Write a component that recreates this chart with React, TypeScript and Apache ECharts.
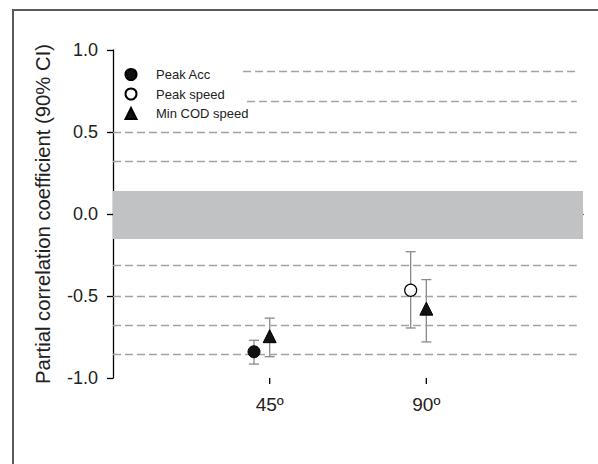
import React, { useEffect, useRef } from "react";
import * as echarts from "echarts";

// x positions: 1 = 45º, 2 = 90º
const xTicks = [1, 2];
const xLabels = ["45º", "90º"];

// Peak Acc: [x, mean, lower, upper]
const peakAcc = [[0.9, -0.84, -0.915, -0.77]];
// Peak speed
const peakSpeed = [[1.9, -0.465, -0.695, -0.23]];
// Min COD speed
const minCod = [
  [1, -0.745, -0.87, -0.635],
  [2, -0.577, -0.78, -0.4],
];

// trivial effect band
const band = [-0.152, 0.14];
// threshold dashed lines
const thresholds = [0.87, 0.69, 0.5, 0.32, -0.31, -0.5, -0.68, -0.855];

const FONT = "'Liberation Sans', Arial, sans-serif";

export default function App() {
  const ref = useRef<HTMLDivElement>(null);
  useEffect(() => {
    document.body.style.margin = "0";
    const chart = echarts.init(ref.current!, null, { renderer: "svg" });

    const errRender = (params: any, api: any) => {
      const x = api.value(0);
      const lo = api.value(2);
      const hi = api.value(3);
      const pHi = api.coord([x, hi]);
      const pLo = api.coord([x, lo]);
      const cap = 5;
      const style = { stroke: "#8a8a8a", lineWidth: 1.3 };
      return {
        type: "group",
        children: [
          { type: "line", shape: { x1: pHi[0], y1: pHi[1], x2: pLo[0], y2: pLo[1] }, style },
          { type: "line", shape: { x1: pHi[0] - cap, y1: pHi[1], x2: pHi[0] + cap, y2: pHi[1] }, style },
          { type: "line", shape: { x1: pLo[0] - cap, y1: pLo[1], x2: pLo[0] + cap, y2: pLo[1] }, style },
        ],
      };
    };

    const tickRender = (params: any, api: any) => {
      const p = api.coord([api.value(0), -1]);
      return {
        type: "line",
        shape: { x1: p[0], y1: p[1], x2: p[0], y2: p[1] + 6 },
        style: { stroke: "#000", lineWidth: 1.3 },
      };
    };

    const markLines = thresholds.map((y) => {
      const xs = y === 0.87 ? 0.83 : y === 0.69 ? 0.855 : 0;
      return [
        { coord: [xs, y] },
        { coord: [2.96, y] },
      ];
    });

    chart.setOption({
      animation: false,
      textStyle: { fontFamily: FONT },
      graphic: [
        {
          type: "rect",
          shape: { x: 13, y: 10, width: 700, height: 600 },
          style: { fill: "none", stroke: "#5a5a5a", lineWidth: 2 },
          silent: true,
        },
      ],
      grid: { left: 113, right: 15, top: 50, bottom: 86, containLabel: false },
      legend: {
        orient: "vertical",
        left: 124.5,
        top: 67.5,
        padding: 0,
        itemWidth: 11,
        itemHeight: 11,
        itemGap: 5.5,
        selectedMode: false,
        data: ["Peak Acc", "Peak speed", "Min COD speed"],
        textStyle: {
          fontSize: 13,
          lineHeight: 14,
          color: "#222",
          fontFamily: FONT,
          padding: [0, 0, 0, 14.5],
        },
      },
      xAxis: {
        type: "value",
        min: 0,
        max: 3,
        interval: 1,
        splitLine: { show: false },
        axisLine: { lineStyle: { color: "#000", width: 1.3 } },
        axisTick: { show: false },
        axisLabel: {
          margin: 17,
          fontSize: 19,
          color: "#222",
          fontFamily: FONT,
          formatter: (v: number) => {
            const i = xTicks.indexOf(v);
            return i >= 0 ? xLabels[i] : "";
          },
        },
      },
      yAxis: {
        type: "value",
        min: -1,
        max: 1,
        interval: 0.5,
        name: "Partial correlation coefficient (90% CI)",
        nameLocation: "middle",
        nameGap: 60,
        nameTextStyle: { fontSize: 20.3, color: "#222", fontFamily: FONT },
        splitLine: { show: false },
        axisLine: { show: true, lineStyle: { color: "#000", width: 1.3 } },
        axisTick: { show: true, length: 6, lineStyle: { color: "#000", width: 1.3 } },
        axisLabel: {
          margin: 15,
          fontSize: 18,
          color: "#222",
          fontFamily: FONT,
          formatter: (v: number) => v.toFixed(1),
        },
      },
      series: [
        {
          name: "bg",
          type: "line",
          data: [],
          silent: true,
          markArea: {
            silent: true,
            itemStyle: { color: "#c1c2c4" },
            data: [[{ coord: [0, band[0]] }, { coord: [3, band[1]] }]],
          },
          markLine: {
            silent: true,
            symbol: "none",
            label: { show: false },
            lineStyle: { color: "#a3a3a3", width: 1.3, type: [8, 4] },
            data: markLines,
          },
        },
        {
          name: "ticks",
          type: "custom",
          clip: false,
          renderItem: tickRender,
          data: xTicks.map((x) => [x]),
          encode: { x: 0 },
          silent: true,
        },
        {
          name: "errAcc",
          type: "custom",
          renderItem: errRender,
          data: peakAcc,
          encode: { x: 0, y: [2, 3] },
          z: 3,
        },
        {
          name: "errSpeed",
          type: "custom",
          renderItem: errRender,
          data: peakSpeed,
          encode: { x: 0, y: [2, 3] },
          z: 3,
        },
        {
          name: "errCod",
          type: "custom",
          renderItem: errRender,
          data: minCod,
          encode: { x: 0, y: [2, 3] },
          z: 3,
        },
        {
          name: "Peak Acc",
          type: "scatter",
          symbol: "circle",
          symbolSize: 12,
          itemStyle: { color: "#111", borderColor: "#000", borderWidth: 1, opacity: 1 },
          data: peakAcc.map((d) => [d[0], d[1]]),
          z: 5,
        },
        {
          name: "Peak speed",
          type: "scatter",
          symbol: "circle",
          symbolSize: 12,
          itemStyle: { color: "#fff", borderColor: "#000", borderWidth: 1.2, opacity: 1 },
          data: peakSpeed.map((d) => [d[0], d[1]]),
          z: 5,
        },
        {
          name: "Min COD speed",
          type: "scatter",
          symbol: "triangle",
          symbolSize: 13,
          itemStyle: { color: "#111", borderColor: "#000", borderWidth: 1, opacity: 1 },
          data: minCod.map((d) => [d[0], d[1]]),
          z: 5,
        },
      ],
    });
    return () => chart.dispose();
  }, []);
  return (
    <div
      ref={ref}
      style={{ position: "fixed", left: 0, top: 0, width: 598, height: 464, background: "#fff" }}
    />
  );
}
